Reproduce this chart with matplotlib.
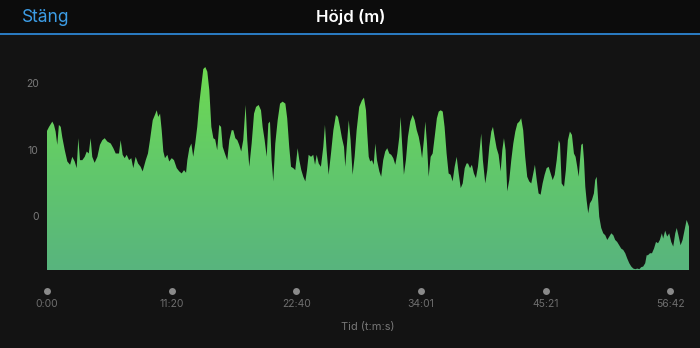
import numpy as np
import matplotlib
matplotlib.use("Agg")
import matplotlib.pyplot as plt
from matplotlib.colors import LinearSegmentedColormap
from matplotlib.patches import Rectangle
from matplotlib.lines import Line2D

plt.rcParams['font.family'] = ['Inter', 'DejaVu Sans']

# ------------------------------------------------------------
# Daten: Zeit [s] und Höhe [m]
tid_s = [
    0, 11, 29, 38, 47, 56, 65, 75, 83, 97, 111, 126, 138, 151, 162, 171, 180, 193, 206, 217, 228, 238, 247,
    260, 275, 289, 302, 315, 329, 348, 362, 375, 393, 402, 413, 424, 435, 448, 460, 471, 484, 497, 511, 522, 539, 551,
    562, 577, 589, 599, 607, 617, 626, 635, 644, 657, 667, 681, 693, 708, 722, 735, 748, 759, 766, 777, 788, 798,
    809, 820, 831, 844, 853, 864, 875, 886, 897, 908, 918, 929, 940, 950, 959, 971, 984, 995, 1008, 1017, 1028,
    1039, 1049, 1060, 1071, 1084, 1093, 1104, 1117, 1130,
    1141, 1155, 1168, 1177, 1188, 1199, 1208, 1217, 1226, 1235, 1246, 1259, 1272, 1286, 1301, 1311, 1322, 1332,
    1344, 1355, 1368, 1377, 1388, 1399, 1410, 1419, 1428, 1441, 1453, 1463, 1472, 1483, 1495, 1508, 1517, 1526,
    1537, 1550, 1563, 1577, 1588, 1599, 1610, 1621, 1628, 1636, 1647, 1657, 1668, 1679, 1690, 1704,
    1719, 1730, 1741, 1748, 1756, 1764, 1774, 1783, 1792, 1801, 1814, 1824, 1835, 1846, 1857, 1868, 1879, 1890,
    1901, 1912, 1923, 1930, 1937, 1948, 1959, 1970, 1983, 1996, 2007, 2018, 2029, 2039, 2047, 2057, 2065, 2074,
    2083, 2094, 2105, 2116, 2128, 2138, 2149, 2160, 2170, 2181, 2192, 2203, 2214, 2225, 2236, 2247, 2258, 2269,
    2280, 2290,
    2298, 2309, 2319, 2330, 2341, 2352, 2363, 2370, 2379, 2392, 2403, 2414, 2425, 2434, 2443, 2454, 2465, 2476,
    2485, 2494, 2503, 2512, 2523, 2534, 2545, 2556, 2567, 2578, 2588, 2599, 2610, 2621, 2632, 2643, 2654, 2663,
    2673, 2683, 2694, 2705, 2716, 2727, 2738, 2749, 2760, 2771, 2782, 2793, 2800, 2809, 2822, 2832, 2843, 2854, 2865,
    2876, 2885, 2894, 2902, 2909, 2916, 2924, 2931, 2938, 2945, 2954, 2963, 2974, 2985, 2992, 3000, 3007, 3014,
    3025, 3036, 3047, 3058, 3069, 3080, 3091, 3101, 3112, 3123, 3134, 3145, 3156, 3167, 3178, 3189, 3200, 3211,
    3222, 3233, 3243, 3254, 3265, 3273, 3280, 3291, 3302, 3313, 3324, 3335, 3345, 3356, 3363, 3374, 3385, 3396,
    3407, 3418, 3429, 3437, 3448, 3458, 3469, 3480, 3491, 3498, 3504,
]
hojd_m = [
    12.8, 13.4, 14.2, 13.7, 12.7, 10.7, 13.7, 13.4, 11.9, 9.9, 8.2, 7.7, 8.9, 8.2, 7.2, 11.7, 8.4, 8.4, 8.9, 9.7, 9.4, 11.7, 8.9,
    8.0, 8.9, 10.7, 11.4, 11.7, 11.2, 10.9, 10.2, 9.4, 9.4, 11.4, 9.2, 8.7, 9.2, 8.4, 8.7, 7.2, 8.9, 7.9, 7.4, 6.7, 8.4, 9.4,
    11.4, 14.4, 15.2, 15.9, 14.9, 15.4, 12.9, 9.7, 8.7, 9.2, 8.2, 8.7, 8.4, 7.2, 6.7, 6.4, 6.9, 6.5, 8.4, 10.2, 10.9, 8.9,
    10.9, 13.4, 16.9, 20.0, 22.1, 22.4, 21.7, 18.9, 13.4, 11.7, 11.5, 9.9, 13.7, 13.4, 10.4, 9.4, 8.4, 11.4, 12.9, 12.9, 11.7,
    11.4, 10.7, 9.7, 11.4, 16.7, 11.4, 7.4, 10.9, 15.4,
    16.4, 16.7, 15.9, 13.4, 11.4, 8.9, 13.9, 14.2, 8.4, 5.2, 10.9, 14.4, 16.9, 17.2, 16.9, 14.7, 10.4, 7.4,
    7.2, 6.9, 10.2, 8.4, 6.9, 5.9, 5.2, 6.9, 9.2, 8.9, 9.2, 7.7, 9.2, 7.9, 7.4, 10.4, 13.7, 9.9,
    6.2, 9.4, 12.9, 15.2, 14.9, 13.4, 11.7, 10.4, 7.4, 10.4, 14.4, 11.4, 6.2, 8.9, 12.9, 16.4,
    17.4, 17.8, 15.9, 12.4, 8.9, 8.2, 8.4, 7.7, 10.9, 8.4, 6.7, 5.9, 8.4, 9.7, 10.2, 9.4, 9.2, 8.7,
    7.7, 9.4, 11.9, 14.9, 11.4, 6.2, 8.4, 11.9, 14.2, 15.2, 14.4, 12.9, 11.9, 10.4, 8.7, 11.4, 14.2, 10.9,
    5.9, 8.9, 9.4, 11.9, 14.7, 15.7, 15.9, 15.7, 13.4, 9.4, 6.4, 6.2, 5.2, 7.4, 8.9, 6.4, 4.2, 4.9,
    7.2, 7.9,
    7.9, 7.2, 7.7, 6.4, 5.7, 7.4, 10.4, 12.4, 8.4, 4.9, 6.9, 10.4, 12.7, 13.4, 11.9, 10.2, 9.2, 6.7,
    9.9, 11.7, 9.9, 3.7, 5.4, 8.4, 10.9, 12.7, 13.9, 14.2, 14.7, 12.9, 8.9, 5.9, 5.2, 4.9, 6.4, 7.7,
    5.4, 3.4, 3.2, 4.9, 6.2, 7.2, 7.4, 6.4, 5.4, 6.2, 8.4, 11.4, 10.9, 4.9, 4.4, 6.9, 11.4, 12.7, 12.2,
    9.4, 8.9, 7.4, 5.9, 8.4, 10.7, 10.9, 8.4, 4.4, 2.4, 0.4, 1.9, 2.4, 3.4, 5.4, 5.9, 2.9, -0.1,
    -1.8, -2.6, -2.9, -3.6, -3.1, -2.6, -2.9, -3.6, -3.9, -4.4, -4.9, -5.1, -5.6, -6.4, -7.1, -7.6, -7.9, -8.0,
    -7.9, -8.0, -7.7, -7.6, -7.1, -5.9, -5.9, -5.6, -5.6, -4.9, -3.9, -4.1, -3.6, -2.6, -3.4, -2.2, -3.1, -2.6,
    -3.9, -4.6, -2.6, -1.8, -3.1, -4.4, -3.6, -2.1, -0.6, -1.1, -1.6,
]

x_ticks = [0, 680, 1360, 2041, 2721, 3402]
x_labels = ["0:00", "11:20", "22:40", "34:01", "45:21", "56:42"]
y_ticks = [0, 10, 20]

# ------------------------------------------------------------
# Figur
W, H = 700, 348
fig = plt.figure(figsize=(W / 100, H / 100), dpi=100, facecolor='#131313')

# Kopfzeile
fig.patches.append(Rectangle((0, 1 - 34 / H), 1, 34 / H, transform=fig.transFigure,
                             facecolor='#0c0c0c', edgecolor='none', zorder=0))
fig.lines.append(Line2D([0, 1], [1 - 33.5 / H] * 2, transform=fig.transFigure,
                        color='#2f8fe3', lw=1.2))
fig.text(22 / W, 1 - 17 / H, 'Stäng', color='#3c9de6', fontsize=12.5, va='center', ha='left')
fig.text(351 / W, 1 - 17 / H, 'Höjd (m)', color='white', fontsize=12, fontweight='semibold',
         va='center', ha='center')

ax = fig.add_axes([47 / W, 1 - 270 / H, 642 / W, 210 / H])
ax.set_facecolor('#131313')
ymin, ymax = -8.12, 23.46
xmax = tid_s[-1]

# Fläche mit Verlauf
poly = ax.fill_between(tid_s, hojd_m, ymin, facecolor='none', edgecolor='none')
grad = np.linspace(0, 1, 256).reshape(-1, 1)
cmap = LinearSegmentedColormap.from_list('gruen', ['#58b47e', '#62c96a', '#6fdb4f'])
img = ax.imshow(grad, extent=[0, xmax, ymin, ymax], origin='lower', aspect='auto',
                cmap=cmap, zorder=1, interpolation='bilinear')
img.set_clip_path(poly.get_paths()[0], transform=ax.transData)

ax.set_xlim(0, xmax)
ax.set_ylim(ymin, ymax)

for s in ax.spines.values():
    s.set_visible(False)

ax.set_yticks(y_ticks)
ax.tick_params(axis='y', length=0, pad=6, colors='#7a7a7a', labelsize=7.5)
ax.set_xticks(x_ticks, x_labels)
ax.tick_params(axis='x', length=0, pad=21, colors='#6e6e6e', labelsize=7.5)

# Punkte an der Zeitachse
ax.plot(x_ticks, [-0.1] * len(x_ticks), 'o', ms=5, color='#8a8a8a', mec='none',
        transform=ax.get_xaxis_transform(), clip_on=False)

ax.set_xlabel('Tid (t:m:s)', color='#777777', fontsize=8, labelpad=9)

fig.savefig('out.png', dpi=100, facecolor=fig.get_facecolor())
